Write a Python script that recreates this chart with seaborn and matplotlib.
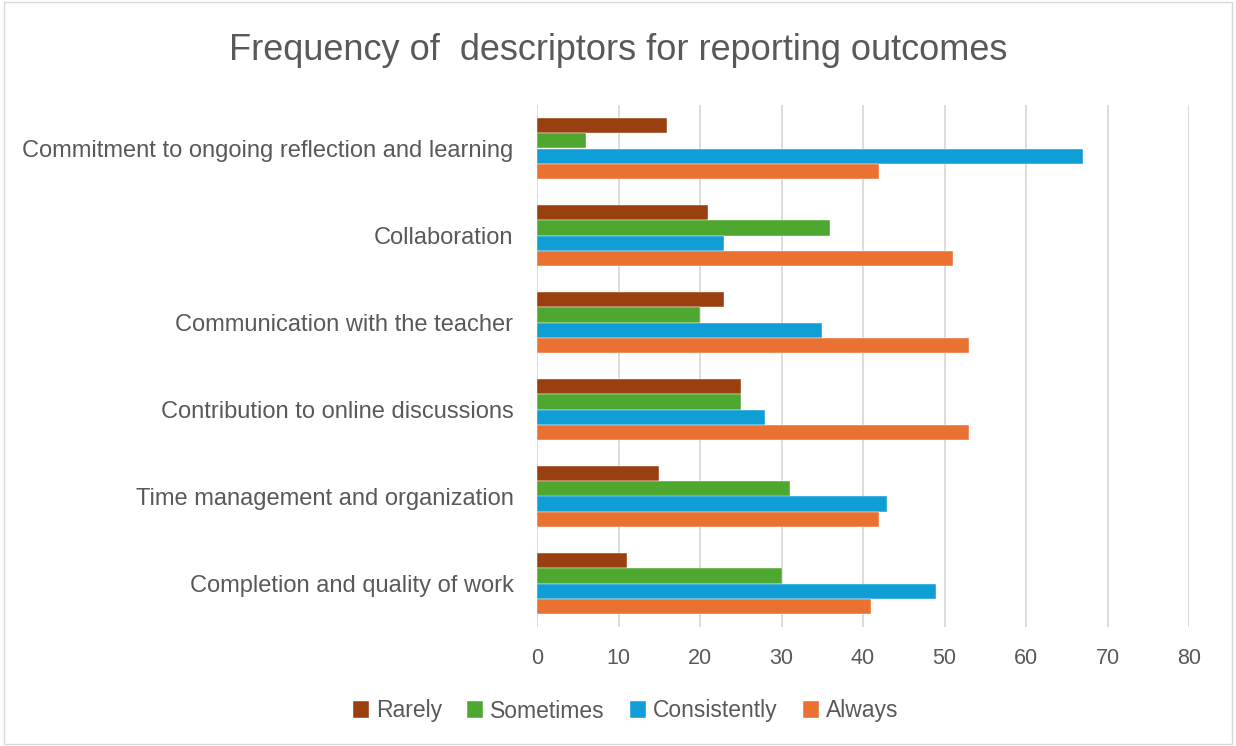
import pandas as pd
import matplotlib.pyplot as plt
import seaborn as sns

# Data
categories = [
    "Commitment to ongoing reflection and learning",
    "Collaboration",
    "Communication with the teacher",
    "Contribution to online discussions",
    "Time management and organization",
    "Completion and quality of work",
]
series = ["Rarely", "Sometimes", "Consistently", "Always"]
rarely = [16, 21, 23, 25, 15, 11]
sometimes = [6, 36, 20, 25, 31, 30]
consistently = [67, 23, 35, 28, 43, 49]
always = [42, 51, 53, 53, 42, 41]
colors = ["#9A3F0F", "#4EA72E", "#0F9ED5", "#E97132"]

df = pd.DataFrame({
    "category": categories * 4,
    "series": [s for s in series for _ in categories],
    "value": rarely + sometimes + consistently + always,
})

sns.set_theme(style="white")
plt.rcParams["font.family"] = ["Liberation Sans", "DejaVu Sans"]
text_color = "#595959"

fig = plt.figure(figsize=(12.36, 7.46), dpi=100)
ax = fig.add_axes([537 / 1236, 1 - 627 / 746, (1189 - 537) / 1236, (627 - 105) / 746])

sns.barplot(data=df, y="category", x="value", hue="series", order=categories,
            hue_order=series, palette=colors, saturation=1, orient="h", width=0.69,
            edgecolor="white", linewidth=0.3, ax=ax)

ax.set_xlim(0, 80)
ax.set_xticks(range(0, 81, 10))
ax.xaxis.grid(True, color="#d9d9d9", linewidth=1.3)
ax.set_axisbelow(True)
for s in ax.spines.values():
    s.set_visible(False)
ax.set_xlabel("")
ax.set_ylabel("")
ax.tick_params(axis="x", length=0, labelsize=15.5, colors=text_color, pad=15)
ax.tick_params(axis="y", length=0, labelsize=17, colors=text_color, pad=17)

fig.text(0.5, 1 - 50 / 746, "Frequency of  descriptors for reporting outcomes",
         ha="center", va="center", fontsize=26, color=text_color)

handles, labels = ax.get_legend_handles_labels()
ax.legend_.remove()
fig.legend(handles, labels, loc="center", bbox_to_anchor=(0.506, 1 - 711 / 746),
           ncol=4, frameon=False, fontsize=16.5, labelcolor=text_color,
           handlelength=0.7, handleheight=0.7, handletextpad=0.3, columnspacing=1.1)

# light border around the chart area
fig.patches.append(plt.Rectangle((0.003, 0.003), 0.994, 0.994, transform=fig.transFigure,
                                 fill=False, edgecolor="#d9d9d9", linewidth=1))

fig.savefig("out.png", dpi=100)
